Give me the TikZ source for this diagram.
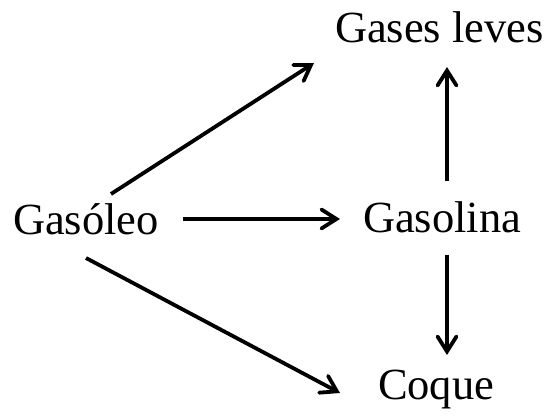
\documentclass[tikz,border=0pt]{standalone}
\usepackage{fontspec}
\setmainfont{Liberation Serif}
\usetikzlibrary{arrows.meta,calc}
\begin{document}
\begin{tikzpicture}[x=1pt,y=1pt,
  lbl/.style={inner sep=0pt,outer sep=0pt,anchor=base west,font=\fontsize{44.5}{50}\selectfont},
  arr/.style={line width=3.8pt,-{Straight Barb[length=15pt,width=19pt,line cap=round,line join=miter]}}]
\useasboundingbox (0,0) rectangle (550,418);
\node[lbl] (gasoleo) at (13,183) {Gasóleo};
\node[lbl] (gases) at (335,375) {Gases leves};
\node[lbl] (gasolina) at (363,185) {Gasolina};
\node[lbl] (coque) at (378,18) {Coque};
\draw[arr] ($(gasoleo.base west)+(98,41)$) -- ($(gases.base west)+(-21,-20)$);
\draw[arr] ($(gasoleo.base west)+(170,16)$) -- ($(gasolina.base west)+(-23,14)$);
\draw[arr] ($(gasoleo.base west)+(73,-23)$) -- ($(coque.base west)+(-38,7)$);
\draw[arr] ($(gasolina.base west)+(84,52)$) -- ($(gases.base west)+(112,-24)$);
\draw[arr] ($(gasolina.base west)+(84,-22)$) -- ($(coque.base west)+(69,45)$);
\end{tikzpicture}
\end{document}
